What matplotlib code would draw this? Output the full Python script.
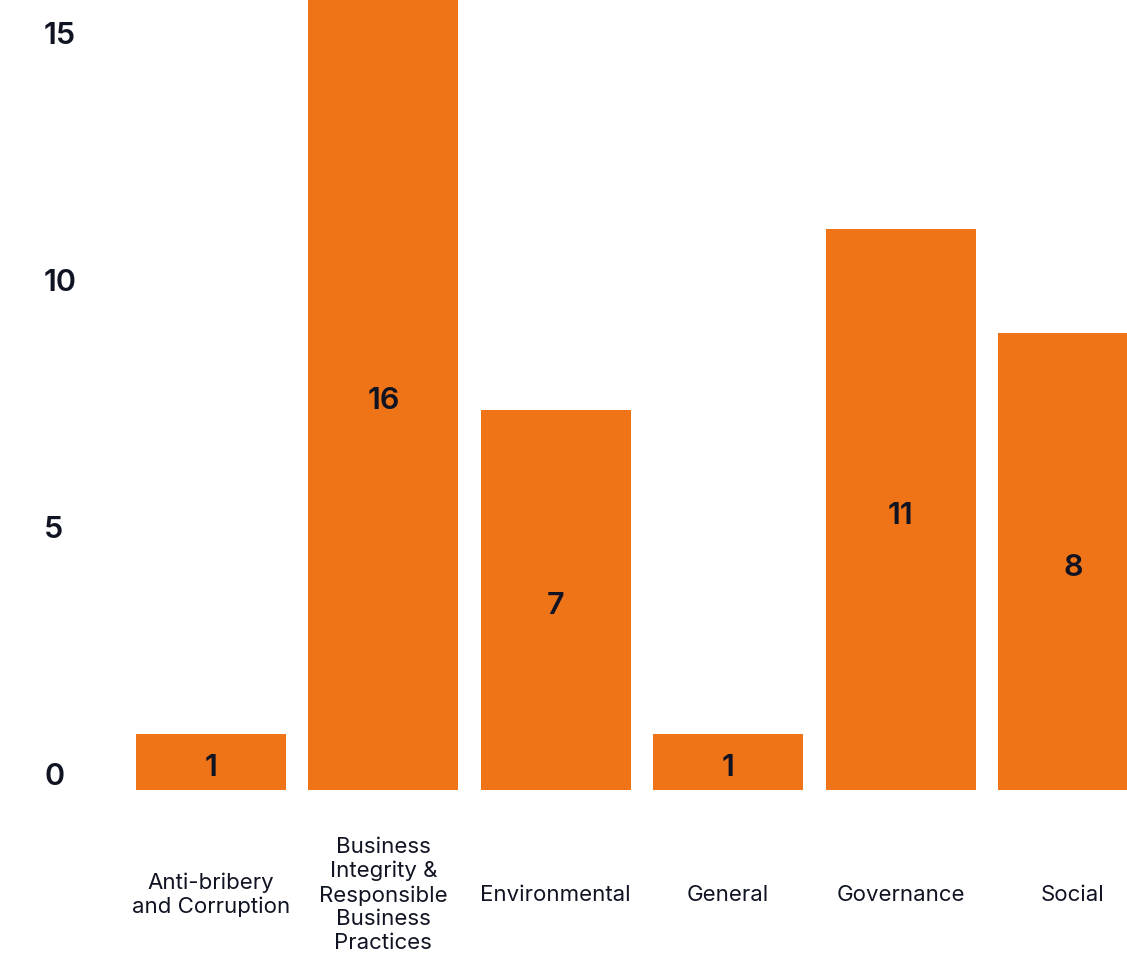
import matplotlib.pyplot as plt
import matplotlib.transforms as mtransforms

#categories and the printed counts
categories = ['Anti-bribery\nand Corruption',
              'Business\nIntegrity &\nResponsible\nBusiness\nPractices',
              'Environmental', 'General', 'Governance', 'Social']
counts = [1, 16, 7, 1, 11, 8]
#bar heights as they are drawn in the picture (they do not follow the counts exactly)
heights = [1.13, 16.4, 7.69, 1.13, 11.36, 9.25]
yticks = [0, 5, 10, 15]

orange = '#EF7418'
ink = '#101322'
plt.rcParams['font.family'] = ['Inter', 'DejaVu Sans']

fig = plt.figure(figsize=(11.27, 9.61), dpi=100)
ax = fig.add_axes([0, 171/961, 1, 790/961])

x = list(range(len(categories)))
ax.bar(x, heights, width=0.87, color=orange)
ax.set_xlim(-211/172.4, (1127-211)/172.4)
ax.set_ylim(0, 16)
ax.axis('off')

#value labels in the middle of the bars, nudged down a little
down = mtransforms.ScaledTranslation(0, -6/100, fig.dpi_scale_trans)
for xi, h, c in zip(x, heights, counts):
    ax.text(xi, min(h, 16)/2, str(c), ha='center', va='center',
            fontsize=22, fontweight='semibold', color=ink,
            transform=ax.transData + down)

#y labels sit a bit above their grid value
shift = mtransforms.ScaledTranslation(0, 13/100, fig.dpi_scale_trans)
ytrans = mtransforms.blended_transform_factory(ax.transAxes, ax.transData) + shift
for t in yticks:
    ax.text(44/1127, t, str(t), ha='left', va='center', fontsize=22,
            fontweight='semibold', color=ink, transform=ytrans)

#category labels under the bars
xtrans = mtransforms.blended_transform_factory(ax.transData, ax.transAxes)
for xi, lab in zip(x, categories):
    ax.text(xi, -105/790, lab, ha='center', va='center', fontsize=16,
            linespacing=1.23, color=ink, transform=xtrans)

plt.savefig('out.png', dpi=100)
